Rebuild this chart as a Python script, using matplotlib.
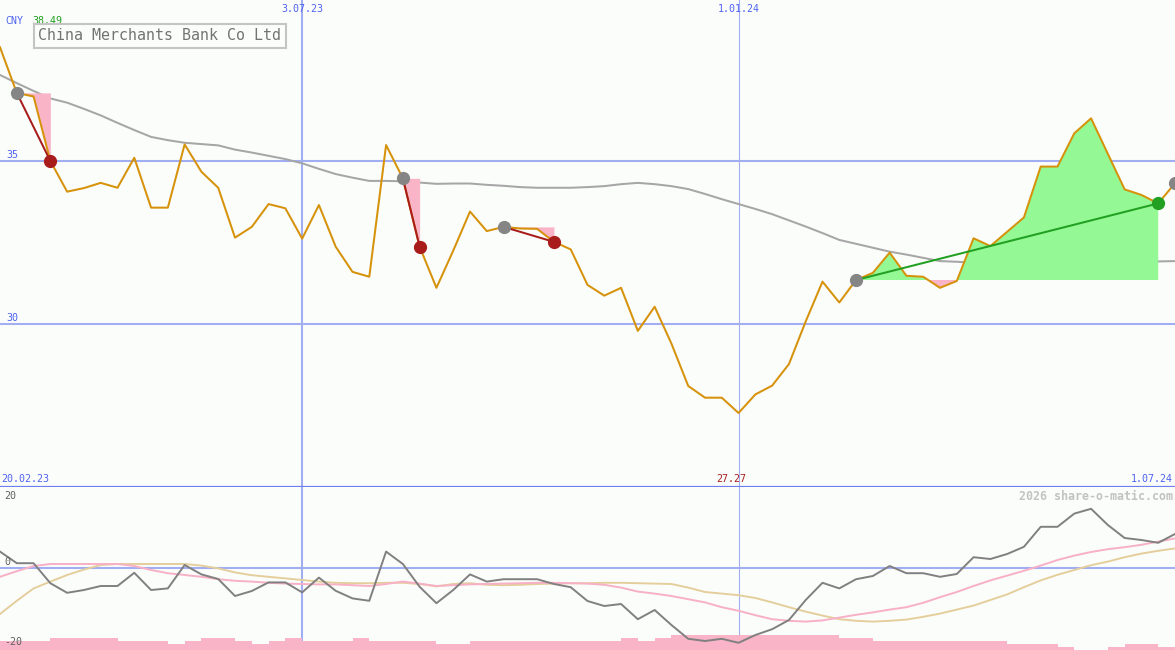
import numpy as np
import pandas as pd
import matplotlib
matplotlib.use("Agg")
import matplotlib.pyplot as plt
import matplotlib.dates as mdates
from matplotlib.transforms import blended_transform_factory

# weekly closes, China Merchants Bank (CNY)
dates = pd.date_range("2023-02-27", periods=71, freq="7D")
price = [38.49, 37.09, 36.98, 35.00, 34.06, 34.17, 34.33, 34.18, 35.10, 33.57,
         33.57, 35.51, 34.67, 34.18, 32.65, 32.98, 33.68, 33.55, 32.62, 33.65,
         32.37, 31.60, 31.45, 35.49, 34.47, 32.37, 31.11, 32.25, 33.45, 32.85,
         32.98, 32.93, 32.92, 32.52, 32.29, 31.20, 30.87, 31.11, 29.79, 30.53,
         29.40, 28.10, 27.74, 27.74, 27.27, 27.84, 28.11, 28.77, 30.08, 31.30,
         30.66, 31.35, 31.57, 32.19, 31.48, 31.45, 31.11, 31.32, 32.63, 32.39,
         32.83, 33.27, 34.83, 34.83, 35.85, 36.31, 35.22, 34.13, 33.96, 33.70,
         34.32]
moving_avg = [37.64, 37.39, 37.15, 36.92, 36.79, 36.60, 36.40, 36.17, 35.95, 35.74,
              35.64, 35.56, 35.52, 35.48, 35.35, 35.26, 35.16, 35.06, 34.93, 34.76,
              34.60, 34.49, 34.39, 34.39, 34.38, 34.34, 34.30, 34.31, 34.31, 34.27,
              34.24, 34.20, 34.18, 34.18, 34.18, 34.20, 34.23, 34.29, 34.33, 34.29,
              34.23, 34.14, 33.99, 33.83, 33.68, 33.53, 33.37, 33.18, 32.99, 32.79,
              32.58, 32.46, 32.34, 32.22, 32.13, 32.03, 31.93, 31.91, 31.88, 31.86,
              31.83, 31.79, 31.80, 31.81, 31.81, 31.84, 31.86, 31.89, 31.91, 31.92,
              31.93]

# trades: entry week / exit week, last one still open
trade_open = [1, 24, 30, 51]
trade_close = [3, 25, 33, 69]
open_entry = 70

# lower panel oscillator and its two averages
osc = [4.1, 1.2, 1.2, -3.8, -6.2, -5.5, -4.5, -4.5, -1.2, -5.5,
       -5.1, 0.75, -1.6, -2.75, -7.0, -5.75, -3.6, -3.6, -6.1, -2.4,
       -5.7, -7.6, -8.2, 4.1, 1.0, -4.7, -8.8, -5.5, -1.6, -3.4,
       -2.8, -2.8, -2.8, -4.0, -4.8, -8.25, -9.5, -9.0, -12.8, -10.5,
       -14.25, -17.7, -18.25, -17.7, -18.7, -16.75, -15.3, -13.0, -8.0, -3.7,
       -5.1, -2.8, -2.0, 0.5, -1.3, -1.3, -2.2, -1.5, 2.7, 2.25,
       3.5, 5.3, 10.3, 10.3, 13.6, 14.8, 10.75, 7.5, 7.0, 6.3,
       8.5]
osc_fast = [-2.2, -0.8, 0.5, 1.0, 1.0, 1.0, 1.0, 1.0, 0.5, -0.5,
            -1.3, -1.75, -2.2, -2.8, -3.2, -3.4, -3.7, -3.9, -4.0, -4.1,
            -4.1, -4.3, -4.5, -4.0, -3.4, -3.9, -4.5, -4.3, -4.1, -4.0,
            -3.9, -3.8, -3.7, -3.7, -3.8, -3.9, -4.2, -4.9, -5.9, -6.4,
            -7.0, -7.8, -8.6, -9.8, -10.7, -11.8, -12.8, -13.2, -13.4, -13.1,
            -12.4, -11.7, -11.1, -10.4, -9.8, -8.7, -7.3, -6.0, -4.5, -3.1,
            -1.9, -0.7, 0.6, 2.0, 3.1, 4.0, 4.7, 5.2, 5.8, 6.6,
            7.4]
osc_slow = [-11.5, -8.2, -5.1, -3.4, -1.75, -0.4, 0.75, 1.0, 1.0, 1.0,
            1.0, 1.0, 0.6, -0.1, -1.1, -1.8, -2.2, -2.6, -3.0, -3.4,
            -3.7, -3.8, -3.8, -3.7, -3.7, -4.0, -4.6, -4.0, -3.8, -4.2,
            -4.3, -4.2, -4.0, -3.9, -3.8, -3.8, -3.7, -3.7, -3.8, -3.9,
            -4.0, -4.9, -6.0, -6.4, -6.8, -7.5, -8.6, -9.8, -10.9, -11.9,
            -12.8, -13.2, -13.4, -13.2, -12.9, -12.2, -11.4, -10.4, -9.4, -8.0,
            -6.6, -4.8, -3.1, -1.7, -0.5, 0.7, 1.6, 2.7, 3.6, 4.3,
            4.9]
# pink bars along the bottom (top value per week, nan = no bar)
bar_top = [-18.25, -18.25, -18.25, -17.5, -17.5, -17.5, -17.5, -18.25, -18.25, -18.25,
           -19.0, -18.25, -17.5, -17.5, -18.25, -19.0, -18.25, -17.5, -18.25, -18.25,
           -18.25, -17.5, -18.25, -18.25, -18.25, -18.25, -19.0, -19.0, -18.25, -18.25,
           -18.25, -18.25, -18.25, -18.25, -18.25, -18.25, -18.25, -17.5, -18.25, -17.5,
           -16.75, -16.75, -16.75, -16.75, -16.75, -16.75, -16.75, -16.75, -16.75, -16.75,
           -17.5, -17.5, -18.25, -18.25, -18.25, -18.25, -18.25, -18.25, -18.25, -18.25,
           -19.0, -19.0, -19.0, -19.75, np.nan, np.nan, -19.75, -19.0, -19.0, -19.75]

title = "China Merchants Bank Co Ltd"
currency = "CNY"
start_label = "20.02.23"
end_label = "1.07.24"
top_ticks = ["2023-07-03", "2024-01-01"]
top_tick_labels = ["3.07.23", "1.01.24"]
price_lines = [35, 30]
osc_labels = [20, 0, -20]

bg = "#fbfdfb"
blue_txt = "#5062f0"
grid_blue = "#a2aef2"
orange = "#d6920a"
pink = "#f9b4c8"
green_fill = "#94f894"
loss_col = "#a81c1c"
win_col = "#22a022"
mono = "DejaVu Sans Mono"

xs = mdates.date2num(dates.to_pydatetime())
price = np.array(price)

fig = plt.figure(figsize=(11.75, 6.5), dpi=100, facecolor=bg)
ax = fig.add_axes([0, 163 / 650, 1, 487 / 650])
ax2 = fig.add_axes([0, 0, 1, 163 / 650])
for a in (ax, ax2):
    a.set_facecolor(bg)
    a.set_xlim(xs[0], xs[-1])
    a.set_xticks([])
    a.set_yticks([])
    for s in a.spines.values():
        s.set_visible(False)
ax.set_ylim(25.0, 39.94)
ax2.set_ylim(-20.5, 20.25)

# grid
for p in price_lines:
    ax.axhline(p, color=grid_blue, lw=1.5, zorder=1)
    ax.annotate(str(p), (0.005, p), xycoords=("axes fraction", "data"),
                xytext=(0, 1), textcoords="offset points", va="bottom",
                color=blue_txt, fontsize=7.2, family=mono)
ax.axhline(25.0, color="#6e7ef0", lw=1.6, clip_on=False, zorder=5)
ax2.axhline(0, color=grid_blue, lw=1.5, zorder=1)
for i, d in enumerate(top_ticks):
    xd = mdates.date2num(pd.Timestamp(d).to_pydatetime())
    w = 1.5 if i == 0 else 0.8
    ax.axvline(xd, color=grid_blue, lw=w, zorder=1)
    ax2.axvline(xd, color=grid_blue, lw=w, zorder=1)
    ax.text(xd, 1 - 9 / 487, top_tick_labels[i], ha="center", va="center",
            transform=blended_transform_factory(ax.transData, ax.transAxes),
            color=blue_txt, fontsize=7.2, family=mono)

# price and average
ax.plot(xs, moving_avg, color="#a6a6a6", lw=1.45, zorder=2)
for o, c in zip(trade_open, trade_close):
    seg = slice(o, c + 1)
    ax.fill_between(xs[seg], price[o], price[seg], where=price[seg] >= price[o],
                    interpolate=True, color=green_fill, lw=0, zorder=2)
    ax.fill_between(xs[seg], price[o], price[seg], where=price[seg] <= price[o],
                    interpolate=True, color=pink, lw=0, zorder=2)
ax.plot(xs, price, color=orange, lw=1.45, zorder=3)
for o, c in zip(trade_open, trade_close):
    col = win_col if price[c] > price[o] else loss_col
    ax.plot([xs[o], xs[c]], [price[o], price[c]], color=col, lw=1.45, zorder=4)
    ax.plot(xs[o], price[o], "o", ms=8.5, color="#858585", zorder=5)
    ax.plot(xs[c], price[c], "o", ms=8.5, color=col, zorder=5)
ax.plot(xs[open_entry], price[open_entry], "o", ms=8.5, color="#858585",
        zorder=5, clip_on=False)

# labels main panel
ax.text(0.005, 1 - 21 / 487, currency, transform=ax.transAxes, va="center",
        color=blue_txt, fontsize=7.2, family=mono)
ax.text(32 / 1175, 1 - 21 / 487, f"{price.max():.2f}", transform=ax.transAxes,
        va="center", color=win_col, fontsize=7.2, family=mono)
ax.text(38 / 1175, 1 - 36 / 487, title, transform=ax.transAxes, va="center",
        color="#737373", fontsize=10.8, family=mono, zorder=6,
        bbox=dict(boxstyle="square,pad=0.3", fc=bg, ec="#c4c4c4", lw=1.5))
ax.text(0.001, 8 / 487, start_label, transform=ax.transAxes, va="center",
        color=blue_txt, fontsize=7.2, family=mono)
ax.text(0.998, 8 / 487, end_label, transform=ax.transAxes, va="center",
        ha="right", color=blue_txt, fontsize=7.2, family=mono)
kmin = int(price.argmin())
ax.annotate(f"{price[kmin]:.2f}", (xs[kmin], 8 / 487),
            xycoords=("data", "axes fraction"), xytext=(-5, 0),
            textcoords="offset points", ha="center", va="center",
            color=loss_col, fontsize=7.2, family=mono)

# lower panel
bar_top = np.array(bar_top)
has = ~np.isnan(bar_top)
ax2.bar(xs[:-1][has], bar_top[has] + 20.5, width=7, align="edge", bottom=-20.5,
        color=pink, lw=0, zorder=1)
ax2.plot(xs, osc_slow, color="#e4cf9c", lw=1.4, zorder=2)
ax2.plot(xs, osc_fast, color="#f7b0c6", lw=1.4, zorder=2)
ax2.plot(xs, osc, color="#808080", lw=1.4, zorder=3)
for v in osc_labels:
    ax2.annotate(str(v), (0.004, v), xycoords=("axes fraction", "data"),
                 xytext=(0, -2 if v > 0 else 1), textcoords="offset points",
                 va="top" if v > 0 else "bottom", color="#606060",
                 fontsize=7.2, family=mono, zorder=4)
ax2.text(0.998, 1 - 9 / 163, "2026 share-o-matic.com", transform=ax2.transAxes,
         ha="right", va="center", color="#c2c2c2", fontsize=8.4,
         family=mono, fontweight="bold")

fig.savefig("out.png", dpi=100, facecolor=bg)
